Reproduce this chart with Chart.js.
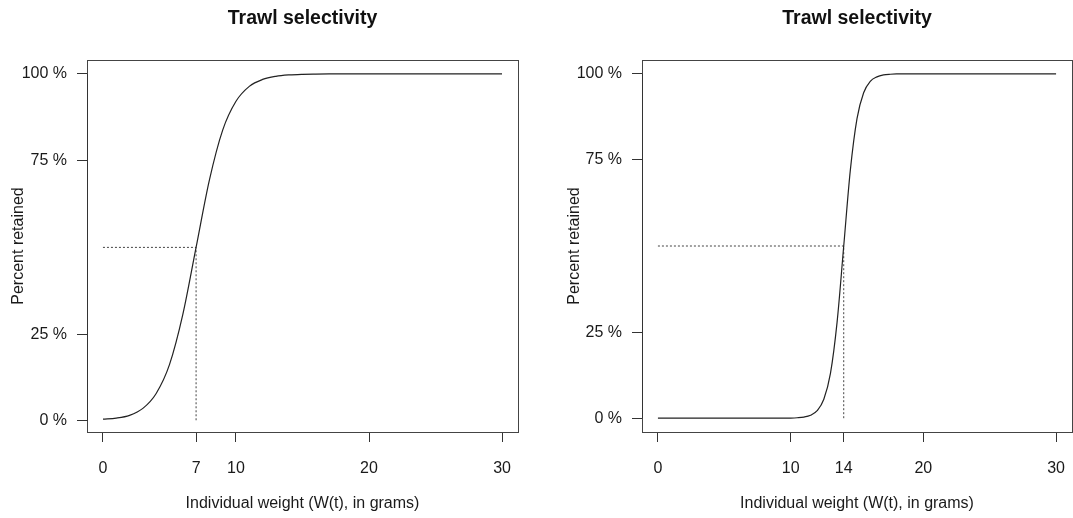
<!DOCTYPE html>
<html>
<head>
<meta charset="utf-8">
<script src="https://cdn.jsdelivr.net/npm/chart.js@4.4.1/dist/chart.umd.min.js"></script>
<style>
  body { margin: 0; background: #fff; }
  #wrap { position: relative; width: 1073px; height: 518px; overflow: hidden; }
  canvas { position: absolute; top: 0; }
</style>
</head>
<body>
<div id="wrap">
  <canvas id="leftChart" width="536" height="518" style="left:0"></canvas>
  <canvas id="rightChart" width="537" height="518" style="left:536px"></canvas>
</div>
<script>
// values (weight in grams, % retained)
const leftWeight = [0, 1, 2, 3, 4, 5, 6, 7, 8, 9, 10, 11, 12, 13, 14, 15, 16, 17, 18, 19, 20, 21, 22, 23, 24, 25, 26, 27, 28, 29, 30];
const leftRetained = [0.5, 0.8, 1.6, 3.6, 7.9, 16.2, 30.6, 50, 69.4, 83.8, 92.1, 96.4, 98.4, 99.3, 99.7, 99.87, 99.94, 99.98, 100, 100, 100, 100, 100, 100, 100, 100, 100, 100, 100, 100, 100];

const rightWeight = [0, 1, 2, 3, 4, 5, 6, 7, 8, 9, 10, 10.5, 11, 11.5, 12, 12.5, 13, 13.5, 14, 14.5, 15, 15.5, 16, 16.5, 17, 17.5, 18, 19, 20, 21, 22, 23, 24, 25, 26, 27, 28, 29, 30];
const rightRetained = [0, 0, 0, 0, 0, 0, 0, 0, 0, 0.02, 0.05, 0.13, 0.33, 0.86, 2.2, 5.5, 13.0, 27.9, 50, 72.1, 87.0, 94.5, 97.8, 99.1, 99.67, 99.87, 99.95, 100, 100, 100, 100, 100, 100, 100, 100, 100, 100, 100, 100];

// dotted guide to the 50 % point
const leftGuideX = [0, 7, 7];
const leftGuideY = [50, 50, 0];
const rightGuideX = [0, 14, 14];
const rightGuideY = [50, 50, 0];

const leftXTicks = [0, 7, 10, 20, 30];
const rightXTicks = [0, 10, 14, 20, 30];
const yTicks = [0, 25, 75, 100];

const titleText = 'Trawl selectivity';
const xTitle = 'Individual weight (W(t), in grams)';
const yTitle = 'Percent retained';

Chart.defaults.font.family = '"Liberation Sans", Arial, Helvetica, sans-serif';
Chart.defaults.color = '#1a1a1a';

// box round the plot + title centred over the plot region (R style)
const boxPlugin = {
    id: 'box',
    afterDraw(chart) {
        const a = chart.chartArea;
        const c = chart.ctx;
        const y = chart.scales.y;
        const left = Math.round(a.left) + 0.5;
        c.save();
        c.strokeStyle = '#444';
        c.lineWidth = 1;
        c.strokeRect(left, Math.round(a.top) + 0.5,
                     Math.round(a.right - a.left), Math.round(a.bottom - a.top));
        // axis line over the box edge, between first and last tick
        c.strokeStyle = '#333';
        c.beginPath();
        c.moveTo(left, Math.round(y.getPixelForValue(yTicks[0])));
        c.lineTo(left, Math.round(y.getPixelForValue(yTicks[yTicks.length - 1])));
        c.stroke();
        c.fillStyle = '#111';
        c.font = 'bold 19.5px "Liberation Sans", Arial, Helvetica, sans-serif';
        c.textAlign = 'center';
        c.textBaseline = 'middle';
        c.fillText(titleText, (a.left + a.right) / 2, 18.5);
        c.restore();
    }
};

function toPoints(xs, ys) {
    return xs.map((x, i) => ({ x: x, y: ys[i] }));
}

function makeChart(id, curveX, curveY, guideX, guideY, xTicks, yMin, yAxisWidth, padLeft, padRight) {
    return new Chart(document.getElementById(id), {
        type: 'line',
        data: {
            datasets: [
                {
                    data: toPoints(curveX, curveY),
                    borderColor: '#222',
                    borderWidth: 1.2,
                    pointRadius: 0,
                    cubicInterpolationMode: 'monotone',
                },
                {
                    data: toPoints(guideX, guideY),
                    borderColor: '#444',
                    borderWidth: 1,
                    borderDash: [2, 2],
                    pointRadius: 0,
                    tension: 0,
                },
            ],
        },
        options: {
            responsive: false,
            animation: false,
            layout: { padding: { left: padLeft, right: padRight, top: 60, bottom: 0 } },
            plugins: {
                legend: { display: false },
                tooltip: { enabled: false },
                title: { display: false }
            },
            scales: {
                x: {
                    type: 'linear',
                    min: -1.2,
                    max: 31.2,
                    afterBuildTicks: (s) => { s.ticks = xTicks.map(v => ({ value: v })); },
                    afterFit: (s) => { s.height = 86; s.paddingLeft = 0; s.paddingRight = 0; },
                    ticks: { autoSkip: false, maxRotation: 0, padding: 17, font: { size: 16 } },
                    grid: { drawOnChartArea: false, tickLength: 10, tickColor: '#333' },
                    border: { display: false },
                    title: { display: true, text: xTitle, font: { size: 16 }, padding: { top: 0, bottom: 5 } }
                },
                y: {
                    min: yMin,
                    max: 104,
                    afterBuildTicks: (s) => { s.ticks = yTicks.map(v => ({ value: v })); },
                    afterFit: (s) => { s.width = yAxisWidth; s.paddingTop = 0; s.paddingBottom = 0; },
                    ticks: { autoSkip: false, padding: 10, font: { size: 16 }, callback: (v) => v + ' %' },
                    grid: { drawOnChartArea: false, tickLength: 10, tickColor: '#333' },
                    border: { display: false },
                    title: { display: true, text: yTitle, font: { size: 16 }, padding: { top: 9, bottom: 0 } }
                }
            }
        },
        plugins: [boxPlugin]
    });
}

makeChart('leftChart', leftWeight, leftRetained, leftGuideX, leftGuideY, leftXTicks, -3.2, 87, 0, 18);
makeChart('rightChart', rightWeight, rightRetained, rightGuideX, rightGuideY, rightXTicks, -4, 86, 20, 1);
</script>
</body>
</html>
